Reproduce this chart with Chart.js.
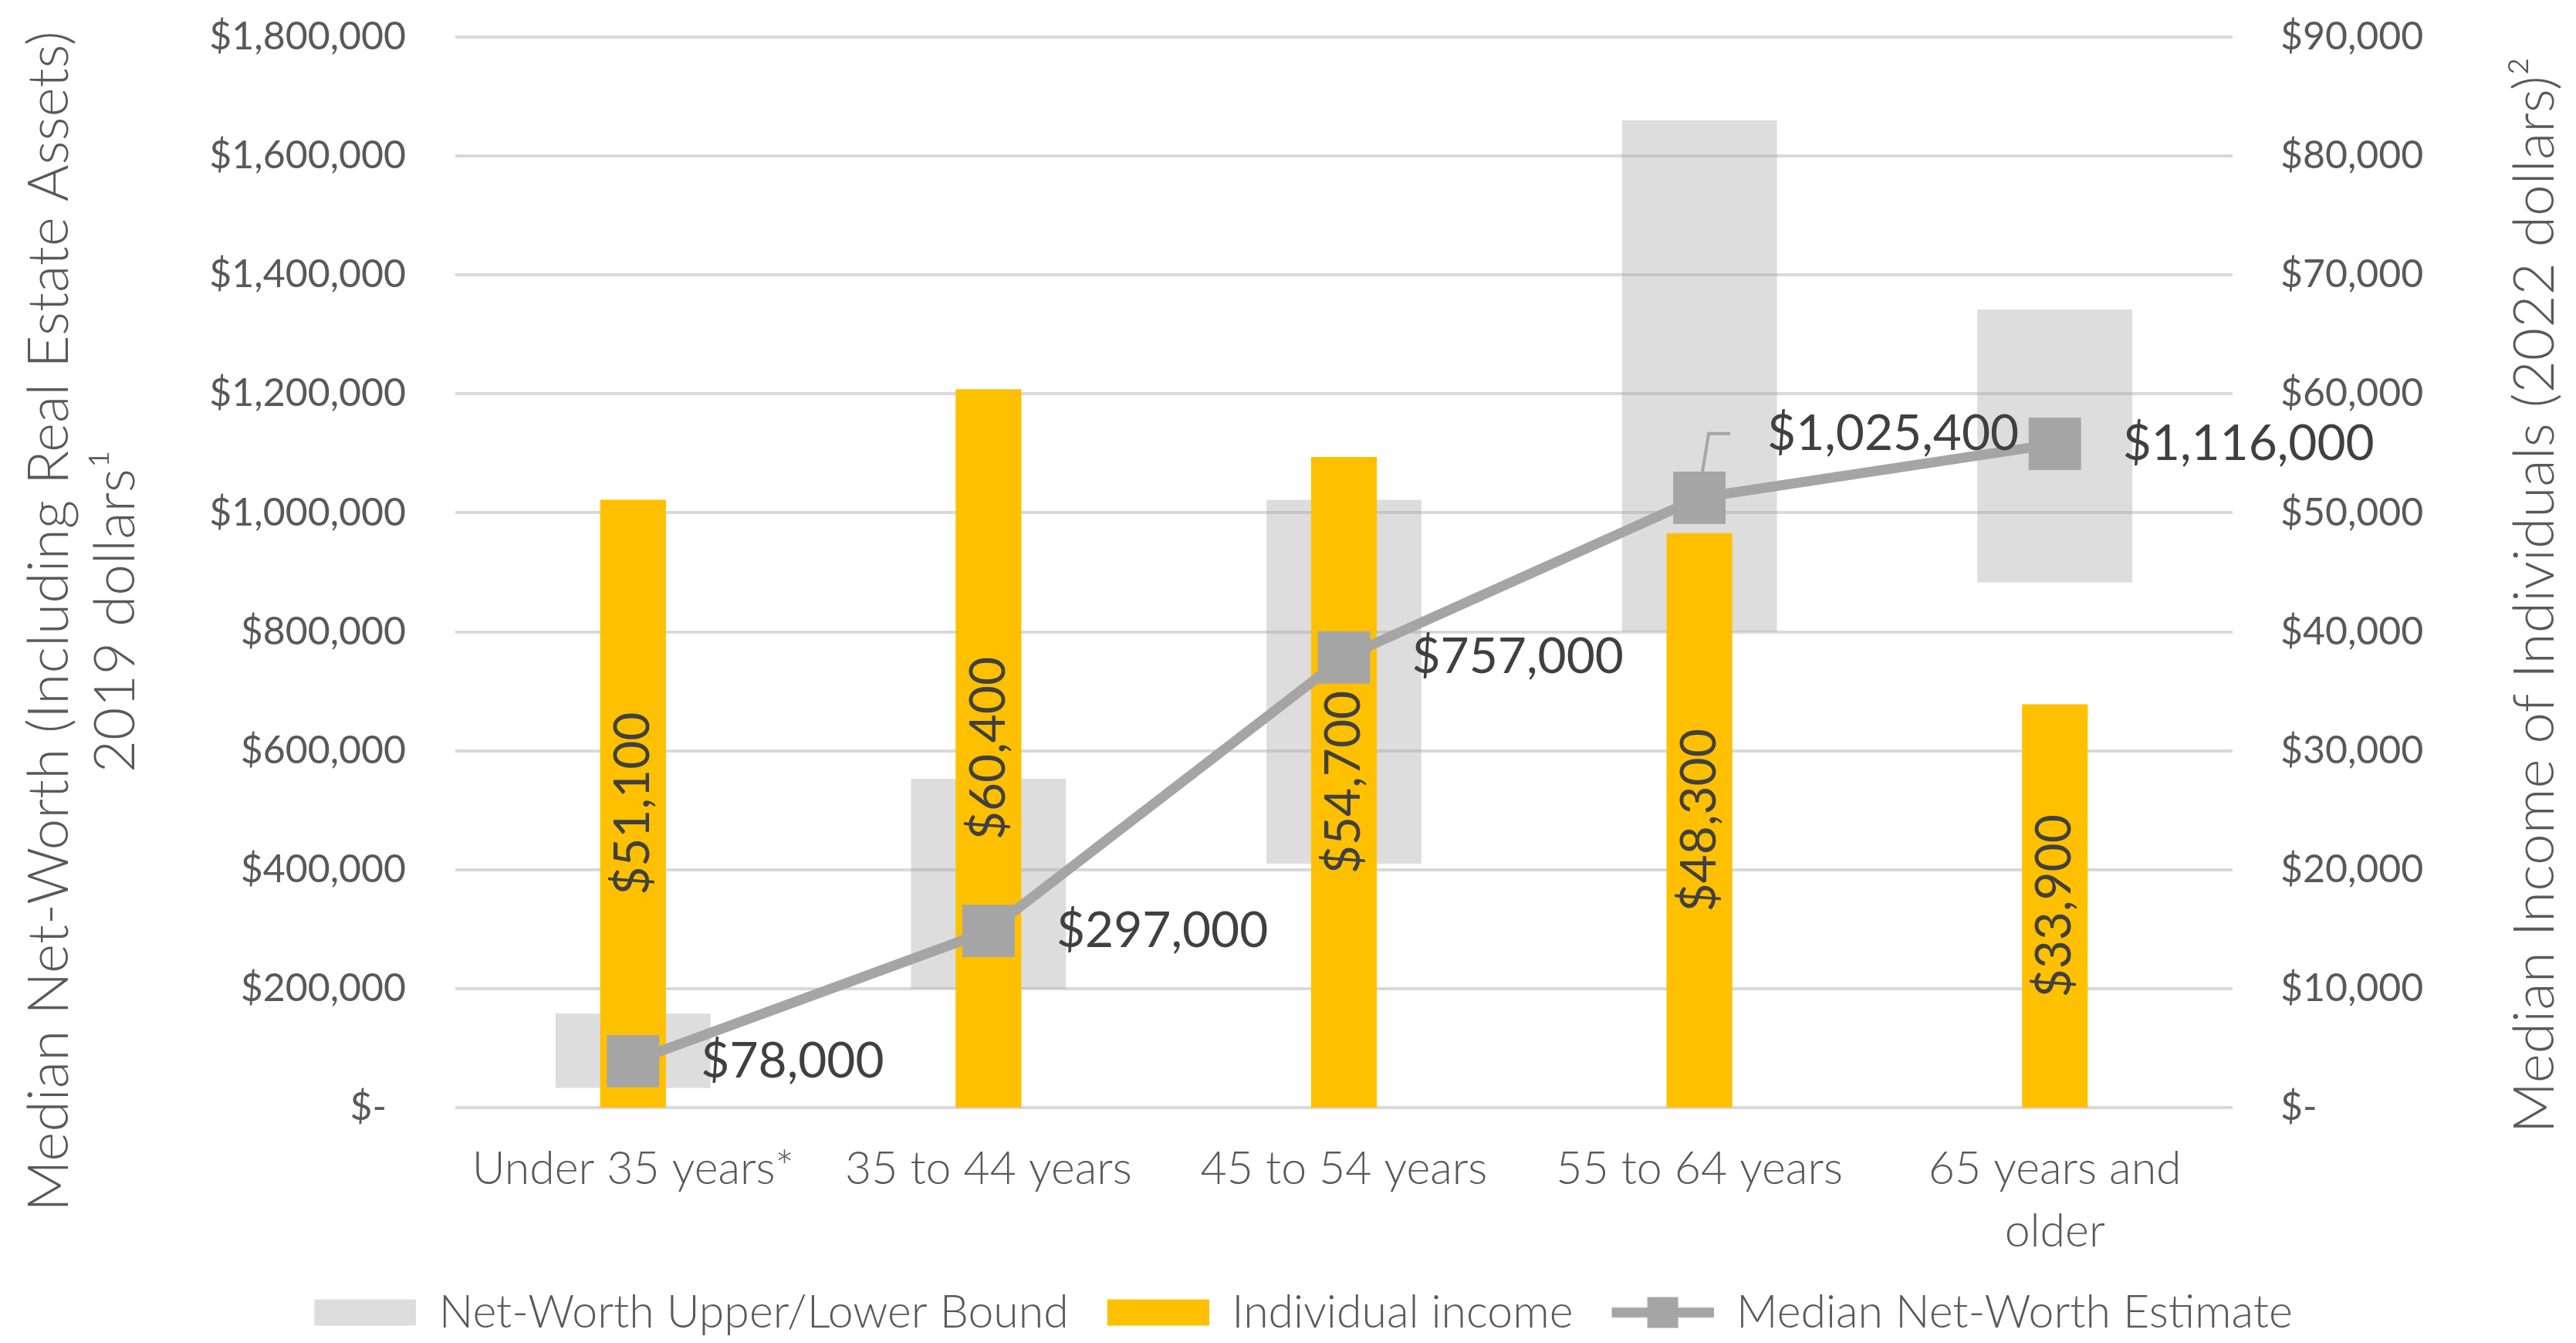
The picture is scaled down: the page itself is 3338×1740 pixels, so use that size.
<!DOCTYPE html>
<html>
<head>
<meta charset="utf-8">
<script src="https://cdn.jsdelivr.net/npm/chart.js@4.4.1/dist/chart.umd.min.js"></script>
<style>
  html, body { margin: 0; padding: 0; background: #ffffff; }
</style>
</head>
<body>
<canvas id="nwChart" width="3338" height="1740"></canvas>
<script>
var ageGroups = ['Under 35 years*', '35 to 44 years', '45 to 54 years', '55 to 64 years', ['65 years and', 'older']];
var boundLow = [33000, 200000, 410000, 800000, 883000];
var boundHigh = [158000, 553000, 1022000, 1660000, 1342000];
var incomeValues = [51100, 60400, 54700, 48300, 33900];
var medianNetWorth = [78000, 297000, 757000, 1025400, 1116000];
var leftMax = 1800000, leftStep = 200000;
var rightMax = 90000, rightStep = 10000;
var leftTitle = ['Median Net-Worth (Including Real Estate Assets)', '2019 dollars\u00b9'];
var rightTitle = 'Median Income of Individuals (2022 dollars)\u00b2';

var boundColor = 'rgba(165,165,165,0.38)';
var incomeColor = '#FFC000';
var lineColor = '#A5A5A5';
var axisText = '#595959';
var labelText = '#404040';
var fontStack = 'Lato, "Noto Sans", sans-serif';

Chart.defaults.font.family = fontStack;

function money(v) {
  return '$' + v.toLocaleString('en-US');
}

// legend keys drawn as little images so the line key can show line + marker
function keyCanvas(draw) {
  var c = document.createElement('canvas');
  c.width = 172; c.height = 44;
  draw(c.getContext('2d'));
  return c;
}
var legendKeys = [
  keyCanvas(function(g){ g.fillStyle = boundColor; g.fillRect(40, 5, 132, 34); }),
  keyCanvas(function(g){ g.fillStyle = incomeColor; g.fillRect(40, 5, 132, 34); }),
  keyCanvas(function(g){
    g.strokeStyle = lineColor; g.lineWidth = 13;
    g.beginPath(); g.moveTo(40, 22); g.lineTo(172, 22); g.stroke();
    g.fillStyle = lineColor; g.fillRect(86, 2, 40, 40);
  })
];

var valueLabels = {
  id: 'valueLabels',
  afterDatasetsDraw: function(chart) {
    var ctx = chart.ctx;
    ctx.save();
    ctx.fillStyle = labelText;
    ctx.font = '64px ' + fontStack;
    chart.getDatasetMeta(1).data.forEach(function(bar, i) {
      ctx.save();
      ctx.translate(bar.x, (bar.y + bar.base) / 2);
      ctx.rotate(-Math.PI / 2);
      ctx.textAlign = 'center';
      ctx.textBaseline = 'middle';
      ctx.fillText(money(incomeValues[i]), 0, 0);
      ctx.restore();
    });
    chart.getDatasetMeta(2).data.forEach(function(pt, i) {
      var dy = i === 3 ? -83 : 0;
      ctx.textAlign = 'left';
      ctx.textBaseline = 'middle';
      ctx.fillText(money(medianNetWorth[i]), pt.x + 88, pt.y + dy);
      if (dy) {
        ctx.strokeStyle = lineColor;
        ctx.lineWidth = 4;
        ctx.beginPath();
        ctx.moveTo(pt.x + 4, pt.y - 34);
        ctx.lineTo(pt.x + 12, pt.y + dy);
        ctx.lineTo(pt.x + 40, pt.y + dy);
        ctx.stroke();
      }
    });
    ctx.restore();
  }
};

var axisTitles = {
  id: 'axisTitles',
  afterDraw: function(chart) {
    var ctx = chart.ctx;
    function vtext(t, x, y) {
      ctx.save();
      ctx.translate(x, y);
      ctx.rotate(-Math.PI / 2);
      ctx.fillText(t, 0, 0);
      ctx.restore();
    }
    ctx.save();
    ctx.fillStyle = axisText;
    ctx.font = '300 73px ' + fontStack;
    ctx.textAlign = 'center';
    ctx.textBaseline = 'middle';
    vtext(leftTitle[0], 64, 805);
    vtext(leftTitle[1], 150, 792);
    vtext(rightTitle, 3285, 771);
    ctx.restore();
  }
};

function noEdgePadding(s) {
  s.paddingTop = 0;
  s.paddingBottom = 0;
}

var ctx = document.getElementById('nwChart').getContext('2d');
var nwChart = new Chart(ctx, {
  type: 'bar',
  data: {
    labels: ageGroups,
    datasets: [{
      label: 'Net-Worth Upper/Lower Bound',
      data: boundLow.map(function(lo, i) { return [lo, boundHigh[i]]; }),
      backgroundColor: boundColor,
      yAxisID: 'y',
      grouped: false,
      categoryPercentage: 1,
      barPercentage: 0.436,
      order: 3
    }, {
      label: 'Individual income',
      data: incomeValues,
      backgroundColor: incomeColor,
      yAxisID: 'y2',
      grouped: false,
      categoryPercentage: 1,
      barPercentage: 0.185,
      order: 2
    }, {
      type: 'line',
      label: 'Median Net-Worth Estimate',
      data: medianNetWorth,
      yAxisID: 'y',
      borderColor: lineColor,
      borderWidth: 13,
      fill: false,
      tension: 0,
      pointStyle: 'rect',
      pointRadius: 48,
      pointBackgroundColor: lineColor,
      pointBorderWidth: 0,
      order: 1
    }]
  },
  options: {
    responsive: false,
    animation: false,
    layout: { padding: { top: 41, left: 0, right: 0, bottom: 0 } },
    plugins: {
      tooltip: { enabled: false },
      legend: {
        position: 'bottom',
        labels: {
          usePointStyle: true,
          pointStyleWidth: 172,
          boxHeight: 44,
          padding: 10,
          color: axisText,
          font: { size: 59, weight: 300 },
          sort: function(a, b) { return a.datasetIndex - b.datasetIndex; },
          generateLabels: function(chart) {
            var items = Chart.defaults.plugins.legend.labels.generateLabels(chart);
            items.forEach(function(it) { it.pointStyle = legendKeys[it.datasetIndex]; });
            return items;
          }
        }
      }
    },
    scales: {
      x: {
        grid: { display: false, drawTicks: false },
        border: { display: false },
        ticks: { color: axisText, font: { size: 59, weight: 300, lineHeight: 1.37 }, padding: 40, maxRotation: 0, autoSkip: false },
        afterFit: function(s) { s.height = 226; }
      },
      y: {
        position: 'left',
        min: 0,
        max: leftMax,
        ticks: {
          stepSize: leftStep,
          color: axisText,
          font: { size: 50 },
          padding: 64,
          callback: function(v) { return v === 0 ? '$-\u2002' : money(v); }
        },
        grid: { color: '#D9D9D9', lineWidth: 4, drawTicks: false },
        border: { display: false },
        afterFit: function(s) { s.width = 590; noEdgePadding(s); }
      },
      y2: {
        position: 'right',
        min: 0,
        max: rightMax,
        ticks: {
          stepSize: rightStep,
          color: axisText,
          font: { size: 50 },
          padding: 62,
          callback: function(v) { return v === 0 ? '$-' : money(v); }
        },
        grid: { display: false, drawTicks: false },
        border: { display: false },
        afterFit: function(s) { s.width = 445; noEdgePadding(s); }
      }
    }
  },
  plugins: [valueLabels, axisTitles]
});
</script>
</body>
</html>
